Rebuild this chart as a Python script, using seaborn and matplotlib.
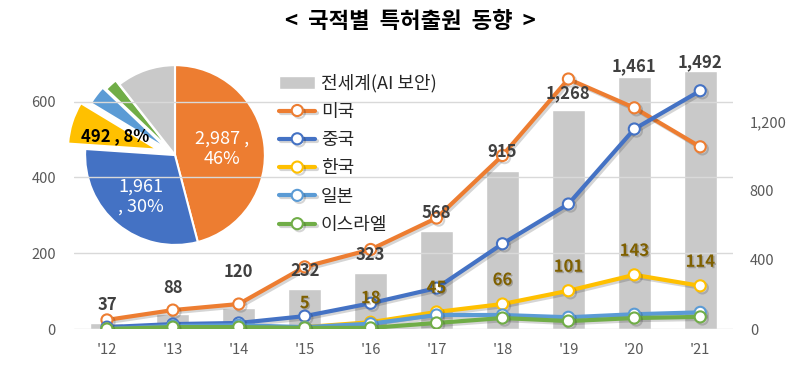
import numpy as np
import matplotlib
matplotlib.use("Agg")
import matplotlib.pyplot as plt
import matplotlib.patheffects as pe
from matplotlib.ticker import FuncFormatter
import seaborn as sns

# data
years = ["'12", "'13", "'14", "'15", "'16", "'17", "'18", "'19", "'20", "'21"]
world = [37, 88, 120, 232, 323, 568, 915, 1268, 1461, 1492]
usa = [24, 50, 66, 164, 210, 293, 458, 660, 584, 481]
china = [5, 13, 16, 34, 68, 108, 225, 330, 528, 629]
korea = [0, 0, 0, 5, 18, 45, 66, 101, 143, 114]
japan = [0, 8, 10, 5, 14, 37, 37, 31, 39, 44]
israel = [0, 5, 5, 3, 3, 16, 29, 21, 29, 32]

pie_names = ["미국", "중국", "한국", "일본", "이스라엘", "기타"]
pie_values = [2987, 1961, 492, 225, 148, 691]

series = [("미국", usa, "#ED7D31"), ("중국", china, "#4472C4"),
          ("한국", korea, "#FFC000"), ("일본", japan, "#5B9BD5"),
          ("이스라엘", israel, "#70AD47")]

sns.set_theme(style="white")
plt.rcParams['font.family'] = ['Noto Sans CJK KR', 'DejaVu Sans']

fig = plt.figure(figsize=(8, 3.67), dpi=100)
ax = fig.add_axes([0.0925, 0.1035, 0.824, 0.7225])
ax_bar = ax.twinx()
ax.set_zorder(ax_bar.get_zorder() + 1)
ax.patch.set_visible(False)

pos = list(range(len(years)))

# world total bars (right axis)
sns.barplot(x=pos, y=world, ax=ax_bar, color="#C9C9C9", saturation=1,
            width=0.5, native_scale=True, label="전세계(AI 보안)")
ax_bar.set_ylim(0, 1536)
ax_bar.set_yticks([0, 400, 800, 1200])
ax_bar.yaxis.set_major_formatter(FuncFormatter(lambda v, p: f"{int(v):,}"))

# country lines (left axis)
shadow = [pe.SimpleLineShadow(offset=(1.5, -1.5), alpha=0.18), pe.Normal()]
for name, vals, col in series:
    sns.lineplot(x=pos, y=vals, ax=ax, color=col, linewidth=3, label=name,
                 marker="o", markersize=8, markerfacecolor="white",
                 markeredgecolor=col, markeredgewidth=1.5, sort=False,
                 path_effects=shadow)

# total labels, drawn on the top axes so they sit over the lines
bar_lab_off = [18, 26, 36, 18, 18, 18, 19, 17, 11, 9]
for i, v in enumerate(world):
    ax.annotate(f"{v:,}", (pos[i], v), xycoords=ax_bar.transData,
                xytext=(0, bar_lab_off[i]), textcoords="offset pixels",
                ha="center", va="center", fontsize=12, fontweight="bold",
                color="#404040")

for i, v in enumerate(korea):
    if v > 0:
        ax.annotate(str(v), (pos[i], v), xytext=(0, 24),
                    textcoords="offset pixels", ha="center", va="center",
                    fontsize=12, fontweight="bold", color="#7F6000",
                    path_effects=[pe.withSimplePatchShadow(offset=(1, -1), alpha=0.25)])

ax.set_ylim(0, 700)
ax.set_yticks([0, 200, 400, 600])
ax.set_xlim(-0.5, 9.5)
ax.set_xticks(pos)
ax.set_xticklabels(years)
ax.grid(axis="y", color="#D9D9D9", linewidth=1)
ax.grid(axis="x", visible=False)
ax_bar.grid(False)
for a in (ax, ax_bar):
    for s in a.spines.values():
        s.set_visible(False)
    a.set_xlabel("")
    a.set_ylabel("")
ax.tick_params(axis="y", length=0, pad=13, labelsize=10.5, labelcolor="#595959")
ax.tick_params(axis="x", length=0, pad=10, labelsize=10.5, labelcolor="#595959")
ax_bar.tick_params(axis="y", length=0, pad=12, labelsize=10.5, labelcolor="#595959")

for a in (ax, ax_bar):
    if a.get_legend() is not None:
        a.get_legend().remove()

h1, l1 = ax_bar.get_legend_handles_labels()
h2, l2 = ax.get_legend_handles_labels()
fig.legend(h1[:1] + h2, l1[:1] + l2, loc="upper left",
           bbox_to_anchor=(0.34, 0.818), frameon=False, fontsize=13,
           handlelength=2.0, labelspacing=0.57, handletextpad=0.3,
           borderaxespad=0)

# pie of totals
ax_pie = fig.add_axes([0.0625, 0.237, 0.3125, 0.681])
pie_cols = ["#ED7D31", "#4472C4", "#FFC000", "#5B9BD5", "#70AD47", "#C9C9C9"]
wedges, _ = ax_pie.pie(pie_values, colors=pie_cols, startangle=90,
                       counterclock=False, explode=[0, 0, 0.2, 0.1, 0.06, 0],
                       wedgeprops=dict(edgecolor="white", linewidth=1.5))
ax_pie.set_xlim(-1.39, 1.39)
ax_pie.set_ylim(-1.39, 1.39)
ax_pie.axis("off")

total = sum(pie_values)
pie_text = {0: (f"{pie_values[0]:,} ,\n{pie_values[0] / total:.0%}", 0.53, "white", "normal", 13),
            1: (f"{pie_values[1]:,}\n, {pie_values[1] / total:.0%}", 0.6, "white", "normal", 13),
            2: (f"{pie_values[2]:,} , {pie_values[2] / total:.0%}", 0.5, "black", "bold", 12)}
for k, (txt, d, col, wt, fs) in pie_text.items():
    w = wedges[k]
    ang = np.deg2rad((w.theta1 + w.theta2) / 2)
    cx, cy = w.center
    ax_pie.text(cx + d * np.cos(ang), cy + d * np.sin(ang), txt, ha="center",
                va="center", color=col, fontweight=wt, fontsize=fs,
                linespacing=1.2)

fig.text(0.5125, 1 - 22 / 367, "<  국적별  특허출원  동향  >", ha="center",
         va="center", fontsize=16, fontweight="bold", color="black")

fig.savefig("out.png", dpi=100)
